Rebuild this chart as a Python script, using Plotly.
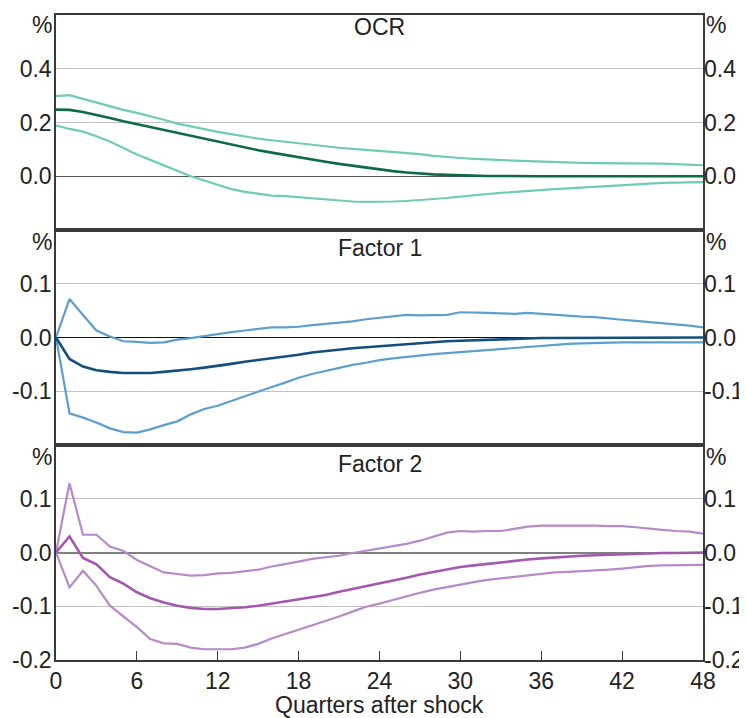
import plotly.graph_objects as go
from plotly.subplots import make_subplots

quarters = list(range(49))

ocr_center = [0.248, 0.247, 0.239, 0.229, 0.217, 0.205, 0.194, 0.183, 0.172, 0.161,
              0.150, 0.139, 0.128, 0.117, 0.107, 0.097, 0.088, 0.079, 0.070, 0.062,
              0.054, 0.046, 0.039, 0.032, 0.025, 0.019, 0.014, 0.010, 0.007, 0.005,
              0.003, 0.002, 0.001, 0.001, 0.0, 0.0, 0.0, 0.0, 0.0, 0.0,
              0.0, 0.0, 0.0, 0.0, 0.0, 0.0, 0.0, 0.0, 0.0]
ocr_upper = [0.298, 0.302, 0.288, 0.274, 0.260, 0.247, 0.236, 0.224, 0.210, 0.196,
             0.185, 0.175, 0.165, 0.157, 0.148, 0.140, 0.134, 0.128, 0.123, 0.117,
             0.111, 0.106, 0.102, 0.098, 0.095, 0.091, 0.087, 0.082, 0.076, 0.071,
             0.068, 0.065, 0.062, 0.060, 0.058, 0.056, 0.054, 0.052, 0.051, 0.050,
             0.049, 0.049, 0.049, 0.049, 0.048, 0.047, 0.045, 0.043, 0.041]
ocr_lower = [0.189, 0.176, 0.166, 0.149, 0.129, 0.104, 0.081, 0.061, 0.040, 0.020,
             0.000, -0.016, -0.033, -0.048, -0.058, -0.066, -0.072, -0.074, -0.078, -0.084,
             -0.087, -0.090, -0.094, -0.095, -0.095, -0.094, -0.092, -0.089, -0.086, -0.081,
             -0.076, -0.070, -0.066, -0.062, -0.058, -0.054, -0.051, -0.048, -0.045, -0.042,
             -0.039, -0.036, -0.033, -0.030, -0.027, -0.025, -0.024, -0.023, -0.022]

f1_center = [0.0, -0.040, -0.054, -0.061, -0.064, -0.066, -0.066, -0.066, -0.064, -0.062,
             -0.059, -0.056, -0.053, -0.049, -0.045, -0.042, -0.038, -0.035, -0.032, -0.028,
             -0.025, -0.023, -0.020, -0.018, -0.016, -0.014, -0.012, -0.010, -0.008, -0.007,
             -0.006, -0.005, -0.004, -0.003, -0.002, -0.002, -0.001, -0.001, -0.001, -0.001,
             0.0, 0.0, 0.0, 0.0, 0.0, 0.0, 0.0, 0.0, 0.0]
f1_upper = [0.0, 0.0715, 0.042, 0.013, 0.002, -0.007, -0.008, -0.010, -0.009, -0.004,
            -0.001, 0.003, 0.006, 0.010, 0.013, 0.016, 0.019, 0.019, 0.020, 0.023,
            0.025, 0.027, 0.030, 0.034, 0.037, 0.040, 0.042, 0.041, 0.042, 0.042,
            0.047, 0.047, 0.046, 0.045, 0.044, 0.046, 0.044, 0.043, 0.040, 0.039,
            0.038, 0.035, 0.033, 0.031, 0.029, 0.026, 0.024, 0.022, 0.019]
f1_lower = [0.0, -0.141, -0.149, -0.158, -0.169, -0.176, -0.177, -0.171, -0.163, -0.156,
            -0.143, -0.133, -0.127, -0.118, -0.109, -0.100, -0.092, -0.084, -0.075, -0.068,
            -0.062, -0.056, -0.051, -0.047, -0.042, -0.039, -0.036, -0.034, -0.031, -0.029,
            -0.027, -0.025, -0.023, -0.021, -0.019, -0.017, -0.015, -0.013, -0.012, -0.011,
            -0.010, -0.010, -0.009, -0.009, -0.009, -0.009, -0.009, -0.009, -0.009]

f2_center = [0.0, 0.030, -0.010, -0.022, -0.046, -0.058, -0.074, -0.085, -0.093, -0.099,
             -0.103, -0.105, -0.105, -0.104, -0.102, -0.099, -0.095, -0.092, -0.088, -0.083,
             -0.079, -0.073, -0.068, -0.062, -0.057, -0.053, -0.047, -0.041, -0.036, -0.032,
             -0.027, -0.024, -0.021, -0.018, -0.015, -0.013, -0.011, -0.009, -0.008, -0.006,
             -0.005, -0.004, -0.003, -0.002, -0.002, -0.001, -0.001, 0.0, 0.0]
f2_upper = [0.0, 0.129, 0.033, 0.033, 0.011, 0.003, -0.014, -0.025, -0.037, -0.040,
            -0.043, -0.042, -0.039, -0.038, -0.035, -0.032, -0.026, -0.022, -0.017, -0.012,
            -0.009, -0.006, -0.001, 0.003, 0.007, 0.011, 0.016, 0.022, 0.030, 0.037,
            0.040, 0.039, 0.040, 0.040, 0.044, 0.048, 0.050, 0.050, 0.050, 0.051,
            0.050, 0.049, 0.049, 0.047, 0.044, 0.042, 0.040, 0.039, 0.035]
f2_lower = [0.0, -0.065, -0.034, -0.062, -0.099, -0.119, -0.139, -0.161, -0.169, -0.170,
            -0.177, -0.180, -0.180, -0.180, -0.177, -0.170, -0.160, -0.152, -0.143, -0.135,
            -0.127, -0.119, -0.110, -0.101, -0.095, -0.088, -0.081, -0.075, -0.069, -0.064,
            -0.059, -0.055, -0.051, -0.048, -0.046, -0.042, -0.039, -0.037, -0.036, -0.035,
            -0.034, -0.032, -0.030, -0.027, -0.025, -0.024, -0.0235, -0.023, -0.023]

panel_titles = ["OCR", "Factor 1", "Factor 2"]
x_ticks = [0, 6, 12, 18, 24, 30, 36, 42, 48]
y_ranges = [[-0.2, 0.6], [-0.2, 0.2], [-0.2, 0.2]]
y_tickvals = [[0.0, 0.2, 0.4], [-0.1, 0.0, 0.1], [-0.2, -0.1, 0.0, 0.1]]
y_ticktext = [["0.0", "0.2", "0.4"], ["-0.1", "0.0", "0.1"], ["-0.2", "-0.1", "0.0", "0.1"]]

FONT = "Liberation Sans, Arial, sans-serif"
FS = 23
TXT = "#222222"
BORDER = "#3a3a3a"
GRID = "#c2c2c2"

panels = [
    (ocr_center, ocr_upper, ocr_lower, "#0c6b41", "#6fcbb5"),
    (f1_center, f1_upper, f1_lower, "#124f7e", "#5c9fcf"),
    (f2_center, f2_upper, f2_lower, "#a457af", "#b68ac6"),
]

fig = make_subplots(rows=3, cols=1, shared_xaxes=True, vertical_spacing=0)

for i, (c, u, l, cc, bc) in enumerate(panels):
    r = i + 1
    fig.add_trace(go.Scatter(x=quarters, y=u, mode="lines", line=dict(color=bc, width=2.2),
                             showlegend=False, hoverinfo="skip"), row=r, col=1)
    fig.add_trace(go.Scatter(x=quarters, y=l, mode="lines", line=dict(color=bc, width=2.2),
                             showlegend=False, hoverinfo="skip"), row=r, col=1)
    fig.add_trace(go.Scatter(x=quarters, y=c, mode="lines", line=dict(color=cc, width=2.6),
                             showlegend=False, hoverinfo="skip"), row=r, col=1)

zero_cols = ["#555555", "#111111", "#808080"]
zero_w = [1.3, 1.2, 2.2]

for i in range(3):
    yname = "yaxis" if i == 0 else f"yaxis{i+1}"
    fig.layout[yname].update(
        range=y_ranges[i], tickvals=y_tickvals[i], ticktext=y_ticktext[i],
        showgrid=True, gridcolor=GRID, gridwidth=1,
        zeroline=True, zerolinecolor=zero_cols[i], zerolinewidth=zero_w[i],
        showline=True, linecolor=BORDER, linewidth=1.5, mirror=True,
        ticks="", tickfont=dict(family=FONT, size=FS, color=TXT), fixedrange=True,
        automargin=False, ticklabelstandoff=-2,
    )
    xname = "xaxis" if i == 0 else f"xaxis{i+1}"
    fig.layout[xname].update(
        range=[0, 48], tickvals=x_ticks, showgrid=False, zeroline=False,
        showline=True, linecolor=BORDER, linewidth=1.5, mirror=True,
        tickfont=dict(family=FONT, size=FS, color=TXT), automargin=False,
    )

fig.update_xaxes(ticks="inside", ticklen=9, tickcolor=BORDER, tickwidth=1.2, row=3, col=1)
fig.update_xaxes(ticks="", showticklabels=False, row=1, col=1)
fig.update_xaxes(ticks="", showticklabels=False, row=2, col=1)

# right-hand axes
for i in range(3):
    base = "y" if i == 0 else f"y{i+1}"
    xa = "x" if i == 0 else f"x{i+1}"
    rn = i + 4
    fig.layout[f"yaxis{rn}"] = dict(
        overlaying=base, side="right", anchor=xa, range=y_ranges[i],
        tickvals=y_tickvals[i], ticktext=y_ticktext[i], showgrid=False, zeroline=False,
        showline=False, ticks="", tickfont=dict(family=FONT, size=FS, color=TXT), fixedrange=True,
        automargin=False,
    )
    fig.add_trace(go.Scatter(x=[None], y=[None], xaxis=xa, yaxis=f"y{rn}",
                             showlegend=False, hoverinfo="skip"))

# page body has an 8px margin; coordinates below are screen pixels of the reference
OFF = 8
W, H = 747 - OFF, 718 - OFF
left_px, right_px, top_px, bot_px = 55.5, 703.5, 14.7, 660.0
L = left_px - OFF
R = W - (right_px - OFF)
T = top_px - OFF
B = H - (bot_px - OFF)

def py(p):
    return (bot_px - p) / (bot_px - top_px)

def px(p):
    return (p - left_px) / (right_px - left_px)

title_py = [27, 247.7, 464]
pct_py = [25, 241.7, 456.7]
for i in range(3):
    fig.add_annotation(text=panel_titles[i], xref="paper", yref="paper", x=0.5, y=py(title_py[i]),
                       xanchor="center", yanchor="middle", showarrow=False,
                       font=dict(family=FONT, size=FS, color=TXT))
    fig.add_annotation(text="%", xref="paper", yref="paper", x=px(41), y=py(pct_py[i]),
                       xanchor="center", yanchor="middle", showarrow=False,
                       font=dict(family=FONT, size=FS, color=TXT))
    fig.add_annotation(text="%", xref="paper", yref="paper", x=px(716.7), y=py(pct_py[i]),
                       xanchor="center", yanchor="middle", showarrow=False,
                       font=dict(family=FONT, size=FS, color=TXT))

fig.add_annotation(text="Quarters after shock", xref="paper", yref="paper", x=0.5, y=py(705),
                   xanchor="center", yanchor="middle", showarrow=False,
                   font=dict(family=FONT, size=FS, color=TXT))

fig.update_layout(
    width=W, height=H,
    margin=dict(l=L, r=R, t=T, b=B, autoexpand=False),
    paper_bgcolor="white", plot_bgcolor="white",
    showlegend=False,
)

fig.write_html("out.html")
